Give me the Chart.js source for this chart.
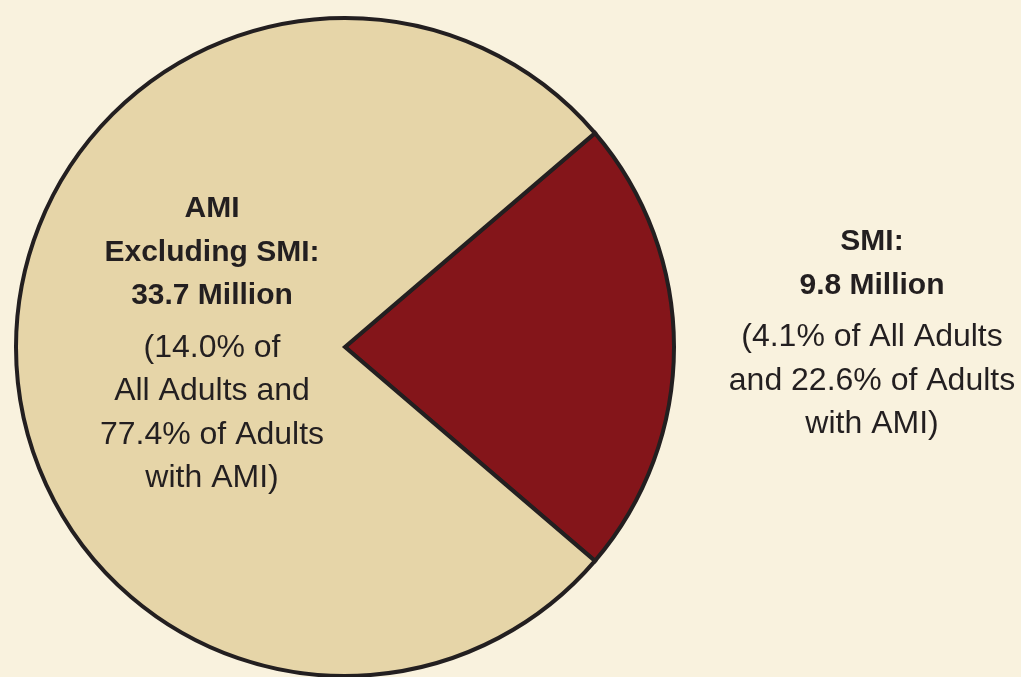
<!DOCTYPE html>
<html>
<head>
<meta charset="utf-8">
<script src="https://cdn.jsdelivr.net/npm/chart.js@4.4.1/dist/chart.umd.min.js"></script>
<style>
  html, body { margin: 0; padding: 0; background: #f9f2de; overflow: hidden; }
  #pie { display: block; }
</style>
</head>
<body>
<canvas id="pie" width="1021" height="677"></canvas>
<script>
  // values in millions of adults
  const categories = ['SMI', 'AMI Excluding SMI'];
  const millions   = [9.8, 33.7];
  const colours    = ['#84151a', '#e6d5a8'];

  // label text for each slice: bold lines, then regular lines
  const labelBold = [
    ['SMI:', '9.8 Million'],
    ['AMI', 'Excluding SMI:', '33.7 Million']
  ];
  const labelNote = [
    ['(4.1% of All Adults', 'and 22.6% of Adults', 'with AMI)'],
    ['(14.0% of', 'All Adults and', '77.4% of Adults', 'with AMI)']
  ];

  const total = millions.reduce((a, b) => a + b, 0);
  // SMI wedge centred on the right-hand side
  const rotation = 90 - (millions[0] / total * 360) / 2;

  const FONT = '"Liberation Sans", Arial, sans-serif';

  const labelPlugin = {
    id: 'sliceLabels',
    afterDraw(chart) {
      const arc = chart.getDatasetMeta(0).data[0];
      const cx = arc.x, cy = arc.y;
      const ctx = chart.ctx;
      // [x offset from centre, first baseline offset]
      const spots = [[527, -97], [-133, -130]];
      ctx.save();
      ctx.fillStyle = '#231f20';
      ctx.textAlign = 'center';
      ctx.textBaseline = 'alphabetic';
      spots.forEach((s, i) => {
        const x = cx + s[0];
        let y = cy + s[1];
        ctx.font = 'bold 30px ' + FONT;
        labelBold[i].forEach(t => { ctx.fillText(t, x, y); y += 43.5; });
        y += 9;
        ctx.font = '32px ' + FONT;
        labelNote[i].forEach(t => { ctx.fillText(t, x, y); y += 43.5; });
      });
      ctx.restore();
    }
  };

  new Chart(document.getElementById('pie'), {
    type: 'pie',
    data: {
      labels: categories,
      datasets: [{
        data: millions,
        backgroundColor: colours,
        borderColor: '#231f20',
        borderWidth: 4,
        borderJoinStyle: 'miter',
        hoverOffset: 0,
        clip: false
      }]
    },
    options: {
      responsive: false,
      animation: false,
      rotation: rotation,
      radius: 329,
      layout: {padding: {left: 0, right: 331, top: 17, bottom: 0}},
      plugins: {legend: {display: false}, tooltip: {enabled: false}}
    },
    plugins: [labelPlugin]
  });
</script>
</body>
</html>
